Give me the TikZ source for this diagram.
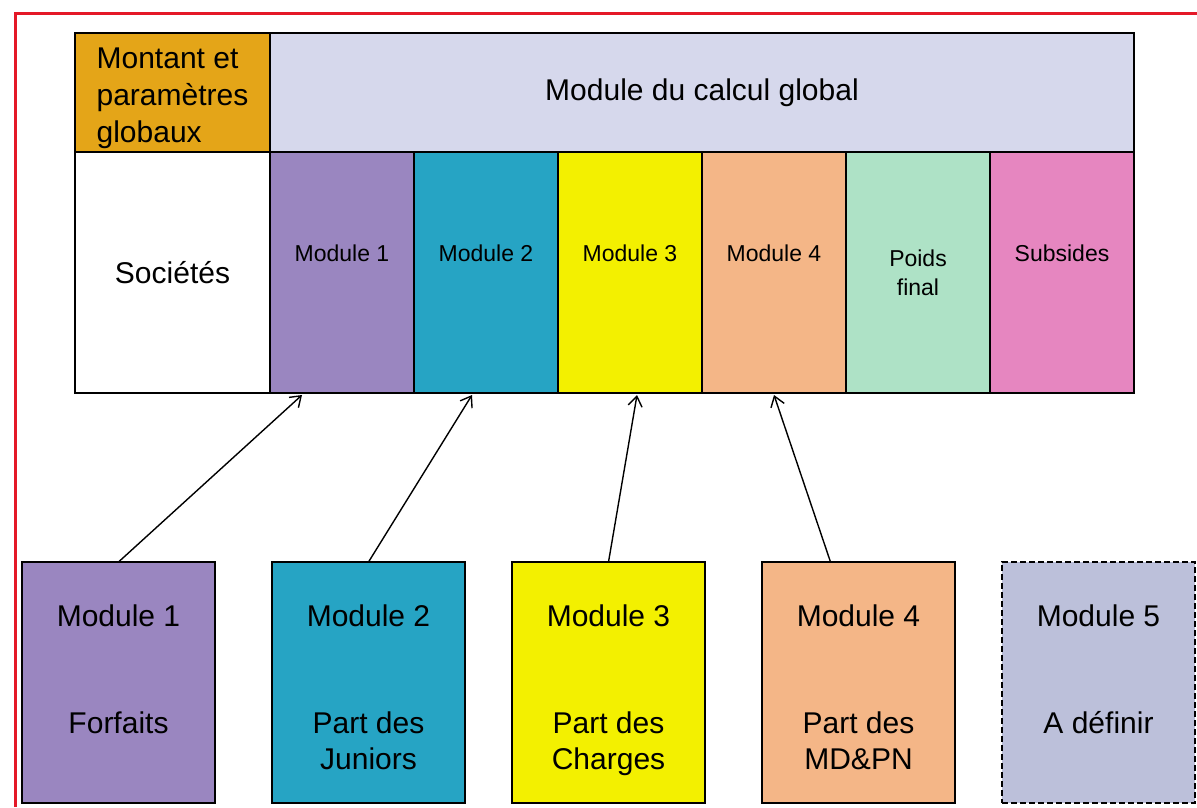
\documentclass[tikz,border=0pt]{standalone}
\usepackage{fontspec}
\setmainfont{Liberation Sans}
\usepackage{xcolor}
\usepackage{tikz}
\usetikzlibrary{arrows.meta,positioning}
\definecolor{framered}{RGB}{228,24,40}
\definecolor{gold}{RGB}{228,165,24}
\definecolor{lavglobal}{RGB}{214,216,236}
\definecolor{modpurple}{RGB}{154,134,192}
\definecolor{modteal}{RGB}{38,164,196}
\definecolor{modyellow}{RGB}{243,240,0}
\definecolor{modpeach}{RGB}{244,182,135}
\definecolor{modmint}{RGB}{174,226,198}
\definecolor{modpink}{RGB}{230,134,192}
\definecolor{modgrey}{RGB}{188,192,218}

\begin{document}
\begin{tikzpicture}[
  cell/.style={draw,line width=1pt,outer sep=0pt,inner sep=2pt,align=center,
               font=\fontsize{15}{18.5}\selectfont},
  col/.style={cell,minimum width=72pt,minimum height=120.5pt,
              font=\fontsize{11.5}{14.5}\selectfont},
  modbox/.style={draw,line width=0.9pt,outer sep=0pt,minimum width=96.5pt,
                 minimum height=120.5pt},
  modtxt/.style={anchor=north,inner sep=0pt,align=center,
                 font=\fontsize{15}{18}\selectfont},
  feed/.style={line width=0.7pt,-{Straight Barb[length=5pt,width=7pt]}}]

\useasboundingbox (0pt,0pt) rectangle (598.5pt,-403.5pt);
\draw[framered,line width=1.5pt] (7.5pt,-403.5pt) |- (598.5pt,-7pt);

% ---- global calculation table ----
\node[cell,fill=gold,anchor=north west,minimum width=97.5pt,minimum height=59.5pt,
      align=left,text height=52pt,text depth=2pt,inner ysep=0pt] (montant)
      at (37.5pt,-16.5pt) {Montant et\\param\`etres\\globaux};
\node[cell,fill=lavglobal,right=0pt of montant,minimum width=432pt,
      minimum height=59.5pt] (global) {Module du calcul global};
\node[cell,below=0pt of montant,minimum width=97.5pt,minimum height=120.5pt]
      (societes) {Soci\'et\'es};
\node[col,fill=modpurple,right=0pt of societes] (c1) {Module 1\\\strut};
\node[col,fill=modteal,right=0pt of c1] (c2) {Module 2\\\strut};
\node[col,fill=modyellow,right=0pt of c2] (c3) {Module 3\\\strut};
\node[col,fill=modpeach,right=0pt of c3] (c4) {Module 4\\\strut};
\node[col,fill=modmint,right=0pt of c4] (poids) {Poids\\final};
\node[col,fill=modpink,right=0pt of poids] (subsides) {Subsides\\\strut};

% ---- input modules ----
\node[modbox,fill=modpurple,anchor=north west] (b1) at (11pt,-281pt) {};
\node[modbox,fill=modteal,right=28.5pt of b1] (b2) {};
\node[modbox,fill=modyellow,right=23.5pt of b2] (b3) {};
\node[modbox,fill=modpeach,right=28.5pt of b3] (b4) {};
\node[modbox,fill=modgrey,right=23.5pt of b4,dash pattern=on 3pt off 1.5pt] (b5) {};

\node[modtxt] (t1) at ([yshift=-21pt]b1.north) {Module 1};
\node[modtxt] (d1) at ([yshift=-74.5pt]b1.north) {Forfaits};
\node[modtxt] (t2) at ([yshift=-21pt]b2.north) {Module 2};
\node[modtxt] (d2) at ([yshift=-74.5pt]b2.north) {Part des\\Juniors};
\node[modtxt] (t3) at ([yshift=-21pt]b3.north) {Module 3};
\node[modtxt] (d3) at ([yshift=-74.5pt]b3.north) {Part des\\Charges};
\node[modtxt] (t4) at ([yshift=-21pt]b4.north) {Module 4};
\node[modtxt] (d4) at ([yshift=-74.5pt]b4.north) {Part des\\MD\&PN};
\node[modtxt] (t5) at ([yshift=-21pt]b5.north) {Module 5};
\node[modtxt] (d5) at ([yshift=-74.5pt]b5.north) {A d\'efinir};

% ---- feeds ----
\draw[feed] (b1.north) -- ([xshift=-20pt,yshift=-1pt]c1.south);
\draw[feed] (b2.north) -- ([xshift=-7pt,yshift=-1pt]c2.south);
\draw[feed] (b3.north) -- ([xshift=3.5pt,yshift=-1pt]c3.south);
\draw[feed] ([xshift=-14pt]b4.north) -- ([yshift=-1pt]c4.south);
\end{tikzpicture}
\end{document}
